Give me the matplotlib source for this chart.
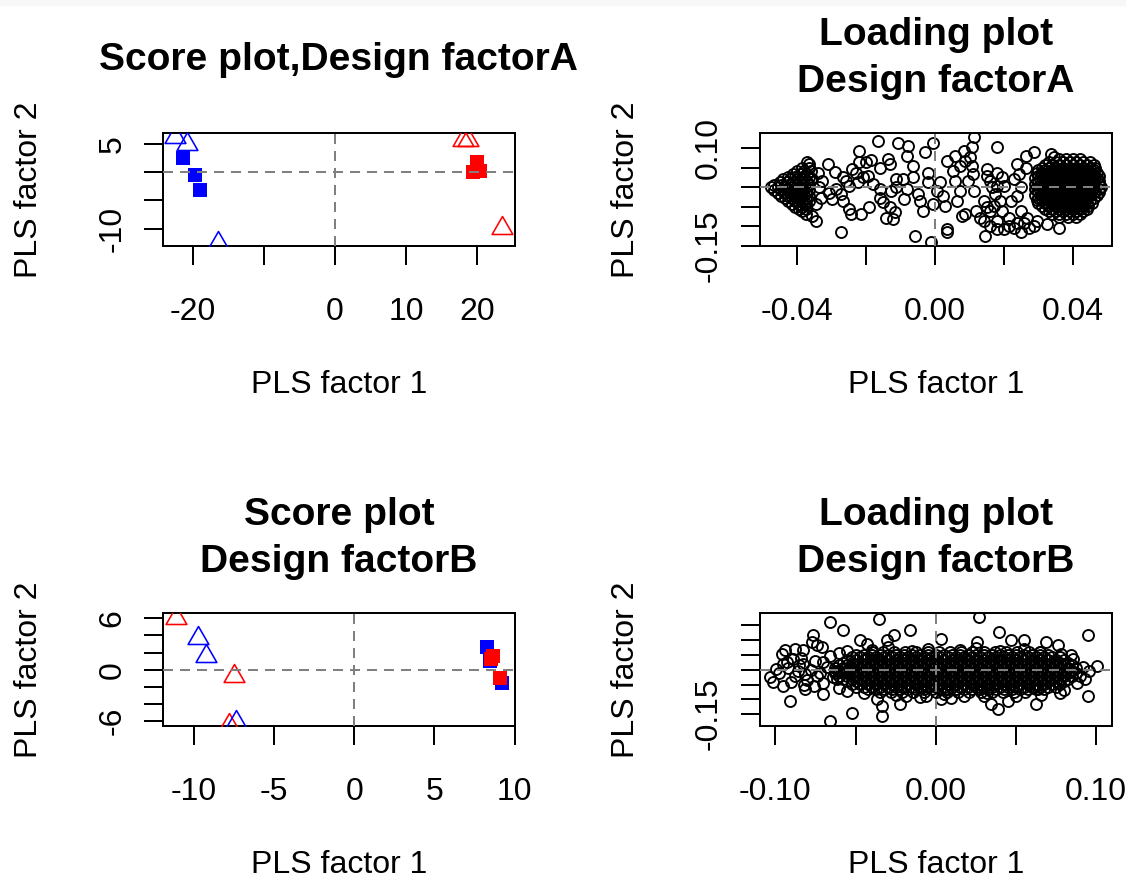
import numpy as np
import matplotlib
matplotlib.use("Agg")
import matplotlib.pyplot as plt
from matplotlib.path import Path
from matplotlib.patches import Rectangle

# ---------------------------------------------------------------- data
# PLS scores, design factor A (PLS factor 1, PLS factor 2)
SCORE_A_TRI_BLUE = [(-22.6, 6.2), (-20.8, 5.0), (-16.5, -12.6)]
SCORE_A_SQ_BLUE = [(-21.45, 2.5), (-19.7, -0.5), (-19.05, -3.15)]
SCORE_A_TRI_RED = [(18.1, 5.77), (18.7, 5.77), (23.5, -9.95)]
SCORE_A_SQ_RED = [(20.0, 1.9), (19.5, 0.0), (20.5, 0.3)]

# PLS scores, design factor B
SCORE_B_TRI_BLUE = [(-9.76, 3.7), (-9.23, 1.6), (-7.35, -6.1)]
SCORE_B_SQ_BLUE = [(8.29, 2.6), (8.5, 1.0), (9.24, -1.6)]
SCORE_B_TRI_RED = [(-11.13, 6.07), (-7.5, -0.79), (-7.83, -6.4)]
SCORE_B_SQ_RED = [(8.52, 1.29), (8.65, 1.55), (9.08, -1.0)]

# PLS loadings, design factor A (values x 1e-3)
LOAD_A_SCATTER = [
    (-16.5, 120), (-10.7, 115), (-7.8, 107), (-0.5, 115), (11.2, 128), (10.7, 103), (18, 103),
    (-21.9, 94), (-19.9, 64), (-18.5, 70), (-21.9, 64), (-13.6, 73), (-13.1, 60), (-16, 51),
    (-6.3, 56), (-1.9, 38), (3.4, 68), (5.8, 81), (8.3, 94), (10.2, 77), (10.7, 56), (5.3, 43),
    (9.7, 17), (15.1, 47), (18, 38), (16, 17), (11.2, -9), (14.1, -34), (8.7, -68), (7.8, -73),
    (13.1, -77), (16, -60), (18, -86), (14.6, -124), (20, -107), (22.8, -103), (24.8, -115),
    (3.4, -107), (3.4, -115), (-5.8, -124), (-1, -141), (-3.4, -60), (-4.9, -17), (-4.4, -34),
    (-0.5, -43), (0.5, -9), (2.4, -21), (2.9, -47), (6.3, -34), (7.3, -9), (5.8, 17), (1.5, 13),
    (-1.9, 13), (-6.3, 26), (-9.2, 21), (-11.2, 21), (-11.2, 0), (-12.6, -9), (-16, -4),
    (-16, -26), (-15.1, -38), (-13.1, -51), (-11.7, -64), (-14.1, -77), (-12.2, -81), (-19, -51),
    (-21.4, -68), (-24.3, -68), (-24.8, -56), (-26.7, -34), (-29.7, -30), (-27.2, -17),
    (-28.7, -4), (-25.8, 17), (-24.8, 4), (-22.4, 13), (-20.9, 26), (-19.4, 30), (-22.8, 38),
    (-26.7, 26), (-31.1, 60), (-34, 38), (-36.5, 60), (-37, 64), (-35.5, 21), (-32.6, 17),
    (-33.5, 0), (-30.6, -13), (-33.1, -26), (-34.5, -43), (-37.4, -68), (-35.5, -73),
    (-34.5, -86), (-38.4, -60), (-27.2, -115), (7.3, 56), (8.7, 68), (-24, 47), (-29, 40),
    (-18, 8), (-8, -4), (-9, -30), (12, -60), (11, 35), (-3, 90), (-8, 80),
    (15.1, 30), (16.5, 0), (17.5, -17), (19, -34), (15.1, -51), (17, -47), (19.4, -60),
    (21.4, -77), (23.8, -90), (21.4, -98), (18, -107), (16, -98), (14.1, -86), (19.9, 4),
    (19.4, 26), (18, 4), (22.8, 21), (24.3, 34), (23.8, 60), (26.3, 81), (28.7, 90), (26.3, 51),
    (24.8, 0), (23.8, -21), (21.9, -34), (24.8, -60), (26.7, -77), (27.2, -103), (28.7, -98),
    (25.8, -90), (29.7, -86), (32.6, -94), (33.5, 86), (34.5, 77), (36, -103),
]
# dense clusters, listed row by row: (row y, x positions)
LOAD_A_RIGHT_ROWS = [
    (72, [36, 38, 40, 42]),
    (65, [33, 35, 37, 39, 41, 43, 45]),
    (58, [32, 34, 36, 38, 40, 42, 44, 46]),
    (51, [31, 33, 35, 37, 39, 41, 43, 45, 46.5]),
    (44, [30, 32, 34, 36, 38, 40, 42, 44, 46]),
    (37, [29.5, 31, 33, 35, 37, 39, 41, 43, 45, 47]),
    (30, [30, 32, 34, 36, 38, 40, 42, 44, 46, 47.5]),
    (23, [29, 31, 33, 35, 37, 39, 41, 43, 45, 47]),
    (16, [30, 32, 34, 36, 38, 40, 42, 44, 46, 47.5]),
    (9, [29, 31, 33, 35, 37, 39, 41, 43, 45, 47.5]),
    (2, [30, 32, 34, 36, 38, 40, 42, 44, 46, 48]),
    (-5, [29, 31, 33, 35, 37, 39, 41, 43, 45, 47.5]),
    (-12, [30, 32, 34, 36, 38, 40, 42, 44, 46, 47.5]),
    (-19, [29, 31, 33, 35, 37, 39, 41, 43, 45, 47]),
    (-26, [30, 32, 34, 36, 38, 40, 42, 44, 46]),
    (-33, [29.5, 31, 33, 35, 37, 39, 41, 43, 45]),
    (-40, [30, 32, 34, 36, 38, 40, 42, 44, 45.5]),
    (-47, [31, 33, 35, 37, 39, 41, 43, 44.5]),
    (-54, [32, 34, 36, 38, 40, 42, 44]),
    (-61, [33, 35, 37, 39, 41, 43]),
    (-68, [34, 36, 38, 40, 42]),
    (-75, [36, 38.5, 41]),
]
LOAD_A_LEFT_ROWS = [
    (49, [-38.5, -36.5]),
    (42, [-40, -38, -36]),
    (35, [-41, -39, -37]),
    (28, [-42.5, -40.5, -38.5, -36.5]),
    (21, [-44, -42, -40, -38, -36]),
    (14, [-45, -43, -41, -39, -37]),
    (7, [-46.5, -44.5, -42.5, -40.5, -38.5, -36.5]),
    (0, [-47.5, -45.5, -43.5, -41.5, -39.5, -37.5]),
    (-7, [-46.5, -44.5, -42.5, -40.5, -38.5, -36.5]),
    (-14, [-45.5, -43.5, -41.5, -39.5, -37.5]),
    (-21, [-44.5, -42.5, -40.5, -38.5, -36.5]),
    (-28, [-43.5, -41.5, -39.5, -37.5]),
    (-35, [-42.5, -40.5, -38.5, -36.5]),
    (-42, [-41.5, -39.5, -37.5]),
    (-49, [-40.5, -38.5]),
    (-56, [-39.5, -37.5]),
]

# PLS loadings, design factor B (values x 1e-3)
LOAD_B_SCATTER = [
    (-35.6, 172), (-65.9, 161), (-57.5, 133), (-76.3, 116), (-74.2, 82), (-94, 65), (-96, 53),
    (-88, 70), (-82.6, 65), (-99.4, 2), (-103.5, -26), (-101.4, -43), (-95.2, -54), (-91, -105),
    (-81.6, -66), (-70, -83), (-65.9, -173), (-52.3, -145), (-33.5, -156), (-33.5, -122),
    (-36.6, -100), (-22, -117), (-18.8, -88), (-6.3, -88), (3.1, -100), (9.4, -94), (30.3, -88),
    (38.7, -134), (34.5, -117), (45, -105), (62.7, -117), (63.8, -66), (77.4, -77), (95.2, -88),
    (93, -32), (100.4, 14), (95.2, 116), (84.7, 48), (76.3, 82), (69, 93), (55.4, 99), (47, 99),
    (39.7, 127), (27.2, 178), (26.1, 93), (3.1, 104), (-15.7, 133), (-26.1, 116), (-30.3, 99),
    (-47, 99), (-42.9, 87), (-71, 76), (-77.4, 93), (-70, 25), (-61.7, -32), (-74.2, -20),
    (-81.6, -15), (-88.9, 36), (-93, 25), (-82.6, 19),
    (-98, -10), (-92, 5), (-88, -20), (-85, 15), (-80, -35), (-78, 0), (-75, 30), (-72, -10),
    (-70, -45), (-68, 10), (-66, 45), (-64, -25), (-90, -40), (-84, 40), (-95, 20), (-76, -55),
    (-86, -5), (-82, -50), (90, -20), (92, 10), (88, -45), (86, 35), (96, -5),
    (-40, 68), (-30, 75), (-15, 64), (-5, 70), (15, 66), (25, 72), (40, 64), (55, 70), (65, 60),
    (78, 52), (-55, 62), (-60, 55), (-45, -80), (-25, -85), (-10, -92), (5, -82), (18, -88),
    (32, -80), (50, -90), (66, -84), (80, -70), (-55, -72), (-60, -62),
]
LOAD_B_CORE_ROWS = [
    (60, [-40, -33, -26, -19, -12, -5, 2, 9, 16, 23, 30, 37, 44, 51, 58, 65]),
    (51, [-50, -45, -40, -35, -30, -25, -20, -15, -10, -5, 0, 5, 10, 15, 20, 25, 30, 35, 40,
          45, 50, 55, 60, 65, 70]),
    (42, [-52.5, -47.5, -42.5, -37.5, -32.5, -27.5, -22.5, -17.5, -12.5, -7.5, -2.5, 2.5,
          7.5, 12.5, 17.5, 22.5, 27.5, 32.5, 37.5, 42.5, 47.5, 52.5, 57.5, 62.5, 67.5, 72.5,
          77.5]),
    (33, [-55, -50, -45, -40, -35, -30, -25, -20, -15, -10, -5, 0, 5, 10, 15, 20, 25, 30, 35,
          40, 45, 50, 55, 60, 65, 70, 75, 80]),
    (24, [-57.5, -52.5, -47.5, -42.5, -37.5, -32.5, -27.5, -22.5, -17.5, -12.5, -7.5, -2.5,
          2.5, 7.5, 12.5, 17.5, 22.5, 27.5, 32.5, 37.5, 42.5, 47.5, 52.5, 57.5, 62.5, 67.5,
          72.5, 77.5, 82.5]),
    (15, [-60, -55, -50, -45, -40, -35, -30, -25, -20, -15, -10, -5, 0, 5, 10, 15, 20, 25,
          30, 35, 40, 45, 50, 55, 60, 65, 70, 75, 80, 85]),
    (6, [-62.5, -57.5, -52.5, -47.5, -42.5, -37.5, -32.5, -27.5, -22.5, -17.5, -12.5, -7.5,
         -2.5, 2.5, 7.5, 12.5, 17.5, 22.5, 27.5, 32.5, 37.5, 42.5, 47.5, 52.5, 57.5, 62.5,
         67.5, 72.5, 77.5, 82.5, 87.5]),
    (-3, [-63, -60, -55, -50, -45, -40, -35, -30, -25, -20, -15, -10, -5, 0, 5, 10, 15, 20,
          25, 30, 35, 40, 45, 50, 55, 60, 65, 70, 75, 80, 85]),
    (-12, [-62.5, -57.5, -52.5, -47.5, -42.5, -37.5, -32.5, -27.5, -22.5, -17.5, -12.5,
           -7.5, -2.5, 2.5, 7.5, 12.5, 17.5, 22.5, 27.5, 32.5, 37.5, 42.5, 47.5, 52.5, 57.5,
           62.5, 67.5, 72.5, 77.5, 82.5, 87.5]),
    (-21, [-60, -55, -50, -45, -40, -35, -30, -25, -20, -15, -10, -5, 0, 5, 10, 15, 20, 25,
           30, 35, 40, 45, 50, 55, 60, 65, 70, 75, 80, 85]),
    (-30, [-57.5, -52.5, -47.5, -42.5, -37.5, -32.5, -27.5, -22.5, -17.5, -12.5, -7.5, -2.5,
           2.5, 7.5, 12.5, 17.5, 22.5, 27.5, 32.5, 37.5, 42.5, 47.5, 52.5, 57.5, 62.5, 67.5,
           72.5, 77.5, 82.5]),
    (-39, [-55, -50, -45, -40, -35, -30, -25, -20, -15, -10, -5, 0, 5, 10, 15, 20, 25, 30,
           35, 40, 45, 50, 55, 60, 65, 70, 75, 80]),
    (-48, [-52.5, -47.5, -42.5, -37.5, -32.5, -27.5, -22.5, -17.5, -12.5, -7.5, -2.5, 2.5,
           7.5, 12.5, 17.5, 22.5, 27.5, 32.5, 37.5, 42.5, 47.5, 52.5, 57.5, 62.5, 67.5, 72.5,
           77.5]),
    (-57, [-50, -45, -40, -35, -30, -25, -20, -15, -10, -5, 0, 5, 10, 15, 20, 25, 30, 35, 40,
           45, 50, 55, 60, 65, 70, 75]),
    (-66, [-42.5, -37.5, -32.5, -27.5, -22.5, -17.5, -12.5, -7.5, -2.5, 2.5, 7.5, 12.5,
           17.5, 22.5, 27.5, 32.5, 37.5, 42.5, 47.5, 52.5, 57.5, 62.5, 67.5]),
    (-75, [-35, -28, -21, -14, -7, 0, 7, 14, 21, 28, 35, 42, 49, 56]),
]

# ---------------------------------------------------------------- style
plt.rcParams['font.family'] = ['Liberation Sans', 'DejaVu Sans']
W, H = 1126, 881
PX = 0.72                      # points per pixel at 100 dpi
LW = 2 * PX
TICK_FS = 32 * PX
TITLE_FS = 39 * PX
GREY = '#808080'
DASH = (0, (5, 3.5))

# equilateral open triangle with the point at its centroid
TRI = Path([(0, 1), (-0.866, -0.5), (0.866, -0.5), (0, 1)],
           [Path.MOVETO, Path.LINETO, Path.LINETO, Path.CLOSEPOLY])

fig = plt.figure(figsize=(W / 100, H / 100), dpi=100)
fig.patch.set_facecolor('white')
fig.patches.append(Rectangle((0, 1 - 5 / H), 1, 5 / H, transform=fig.transFigure,
                             color='#f7f7f7', zorder=0))

COLS = [(163.3, 514.5), (760.0, 1111.6)]
ROWS = [(133.4, 246.0), (613.4, 726.0)]


def make_axes(col, row):
    l, r = COLS[col]
    t, b = ROWS[row]
    return fig.add_axes([l / W, 1 - b / H, (r - l) / W, (b - t) / H])


def rows_to_xy(rows):
    xs, ys = [], []
    for y, xlist in rows:
        xs += list(xlist)
        ys += [y] * len(xlist)
    return np.array(xs), np.array(ys)


def style_axes(ax, xlim, ylim, xt, xtl, yt, ytl):
    ax.set_xlim(*xlim)
    ax.set_ylim(*ylim)
    for s in ax.spines.values():
        s.set_linewidth(LW)
    ax.axhline(0, color=GREY, lw=LW, ls=DASH, zorder=5)
    ax.axvline(0, color=GREY, lw=LW, ls=DASH, zorder=5)
    ax.set_xticks(xt)
    ax.set_xticklabels(xtl)
    ax.set_yticks(yt)
    ax.set_yticklabels(ytl, rotation=90, va='center')
    ax.tick_params(direction='out', length=19 * PX, width=LW, labelsize=TICK_FS)
    ax.tick_params(axis='x', pad=32 * PX)
    ax.tick_params(axis='y', pad=17 * PX)


def labels(col, row, title_lines):
    l, r = COLS[col]
    t, b = ROWS[row]
    cx = (l + r) / 2
    if len(title_lines) == 1:
        bases = [t - 63]
    else:
        bases = [t - 88.4, t - 41.7]
    for line, yb in zip(title_lines, bases):
        fig.text(cx / W, 1 - yb / H, line, ha='center', va='baseline',
                 fontsize=TITLE_FS, fontweight='bold')
    fig.text(cx / W, 1 - (b + 147) / H, 'PLS factor 1', ha='center', va='baseline',
             fontsize=TICK_FS)
    fig.text((l - 119) / W, 1 - ((t + b) / 2) / H, 'PLS factor 2', ha='right',
             va='center', rotation=90, fontsize=TICK_FS)


def score_panel(ax, tri_blue, sq_blue, tri_red, sq_red):
    for pts, col in ((sq_blue, 'blue'), (sq_red, 'red')):
        x, y = np.array(pts).T
        ax.plot(x, y, ls='none', marker='s', ms=13.5 * PX, mfc=col, mec=col, mew=0, zorder=3)
    for pts, col in ((tri_red, 'red'), (tri_blue, 'blue')):
        x, y = np.array(pts).T
        ax.plot(x, y, ls='none', marker=TRI, ms=24 * PX, mfc='none', mec=col,
                mew=1.6 * PX, zorder=4)


def loading_panel(ax, scatter, row_sets):
    xs, ys = [], []
    for rows in row_sets:
        x, y = rows_to_xy(rows)
        xs.append(x)
        ys.append(y)
    sx, sy = np.array(scatter).T
    xs.append(sx)
    ys.append(sy)
    x = np.concatenate(xs) * 1e-3
    y = np.concatenate(ys) * 1e-3
    ax.plot(x, y, ls='none', marker='o', ms=11 * PX, mfc='none', mec='black',
            mew=1.9 * PX, zorder=3)


# Score plot, factor A
ax1 = make_axes(0, 0)
score_panel(ax1, SCORE_A_TRI_BLUE, SCORE_A_SQ_BLUE, SCORE_A_TRI_RED, SCORE_A_SQ_RED)
style_axes(ax1, (-24.2, 25.3), (-13.1, 6.9),
           [-20, -10, 0, 10, 20], ['-20', '', '0', '10', '20'],
           [-10, -5, 0, 5], ['-10', '', '', '5'])
labels(0, 0, ['Score plot,Design factorA'])

# Loading plot, factor A
ax2 = make_axes(1, 0)
loading_panel(ax2, LOAD_A_SCATTER, [LOAD_A_RIGHT_ROWS, LOAD_A_LEFT_ROWS])
style_axes(ax2, (-0.0507, 0.0512), (-0.150, 0.1385),
           [-0.04, -0.02, 0.0, 0.02, 0.04], ['-0.04', '', '0.00', '', '0.04'],
           [-0.15, -0.10, -0.05, 0.0, 0.05, 0.10], ['-0.15', '', '', '', '', '0.10'])
labels(1, 0, ['Loading plot', 'Design factorA'])

# Score plot, factor B
ax3 = make_axes(0, 1)
score_panel(ax3, SCORE_B_TRI_BLUE, SCORE_B_SQ_BLUE, SCORE_B_TRI_RED, SCORE_B_SQ_RED)
style_axes(ax3, (-11.9, 10.0), (-6.55, 6.55),
           [-10, -5, 0, 5, 10], ['-10', '-5', '0', '5', '10'],
           [-6, -4, -2, 0, 2, 4, 6], ['-6', '', '', '0', '', '', '6'])
labels(0, 1, ['Score plot', 'Design factorB'])

# Loading plot, factor B
ax4 = make_axes(1, 1)
loading_panel(ax4, LOAD_B_SCATTER, [LOAD_B_CORE_ROWS])
style_axes(ax4, (-0.1096, 0.1098), (-0.19, 0.19),
           [-0.10, -0.05, 0.0, 0.05, 0.10], ['-0.10', '', '0.00', '', '0.10'],
           [-0.15, -0.10, -0.05, 0.0, 0.05, 0.10, 0.15], ['-0.15', '', '', '', '', '', ''])
labels(1, 1, ['Loading plot', 'Design factorB'])

fig.savefig('out.png', dpi=100, facecolor='white')
